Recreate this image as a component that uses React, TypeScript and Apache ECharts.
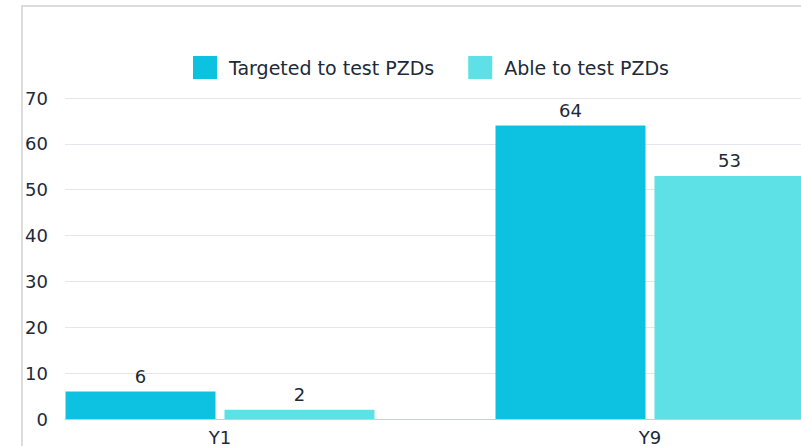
import React, { useEffect, useRef } from "react";
import * as echarts from "echarts";

const categories = ["Y1", "Y9"];
const seriesNames = ["Targeted to test PZDs", "Able to test PZDs"];
const targeted = [6, 64];
const able = [2, 53];
const yTicks = { min: 0, max: 70, interval: 10 };

const FONT = "'DejaVu Sans', sans-serif";
const TEXT = "#1d2a38";

export default function App() {
  const ref = useRef<HTMLDivElement>(null);
  useEffect(() => {
    if (!ref.current) return;
    const chart = echarts.init(ref.current, undefined, { renderer: "svg" });
    chart.setOption({
      animation: false,
      textStyle: { fontFamily: FONT },
      color: ["#0dc2e0", "#5de1e6"],
      graphic: [
        {
          type: "rect",
          z: 100,
          silent: true,
          shape: { x: 22, y: 6, width: 1200, height: 1000 },
          style: { fill: "none", stroke: "#dcdcdc", lineWidth: 2 },
        },
      ],
      legend: {
        left: 193,
        top: 56,
        padding: 0,
        itemWidth: 24,
        itemHeight: 23,
        itemGap: 34,
        icon: "rect",
        data: seriesNames,
        textStyle: { fontSize: 19, color: TEXT, fontFamily: FONT, padding: [0, 0, 0, 7] },
      },
      grid: [
        { left: 65, width: 935, top: 98, bottom: 27, containLabel: false, outerBoundsMode: "none" },
        { left: 5, width: 860, top: 98, bottom: 27, containLabel: false, outerBoundsMode: "none" },
      ],
      xAxis: [
        {
          gridIndex: 0,
          type: "category",
          data: categories,
          axisLine: { show: true, lineStyle: { color: "#c9ced6", width: 1 } },
          axisTick: { show: false },
          axisLabel: { show: false },
        },
        {
          gridIndex: 1,
          type: "category",
          data: categories,
          axisLine: { show: false },
          axisTick: { show: false },
          axisLabel: { fontSize: 18, color: TEXT, margin: 9, fontFamily: FONT },
        },
      ],
      yAxis: [
        {
          gridIndex: 0,
          type: "value",
          min: yTicks.min,
          max: yTicks.max,
          interval: yTicks.interval,
          axisLine: { show: false },
          axisTick: { show: false },
          axisLabel: { fontSize: 18, color: TEXT, margin: 17, fontFamily: FONT },
          splitLine: { lineStyle: { color: "#e3e6ea", width: 1 } },
        },
        {
          gridIndex: 1,
          type: "value",
          min: yTicks.min,
          max: yTicks.max,
          interval: yTicks.interval,
          show: false,
          splitLine: { show: false },
        },
      ],
      series: [
        {
          name: seriesNames[0],
          type: "bar",
          xAxisIndex: 1,
          yAxisIndex: 1,
          data: targeted,
          barWidth: 150,
          barGap: "6%",
          label: { show: true, position: "top", distance: 6, fontSize: 18, color: TEXT, fontFamily: FONT },
        },
        {
          name: seriesNames[1],
          type: "bar",
          xAxisIndex: 1,
          yAxisIndex: 1,
          data: able,
          barWidth: 150,
          barGap: "6%",
          label: { show: true, position: "top", distance: 6, fontSize: 18, color: TEXT, fontFamily: FONT },
        },
      ],
    });
    return () => chart.dispose();
  }, []);
  return (
    <div style={{ position: "absolute", left: 0, top: 0, width: 801, height: 446, overflow: "hidden", background: "#fff" }}>
      <div ref={ref} style={{ width: 1000, height: 446 }} />
    </div>
  );
}
